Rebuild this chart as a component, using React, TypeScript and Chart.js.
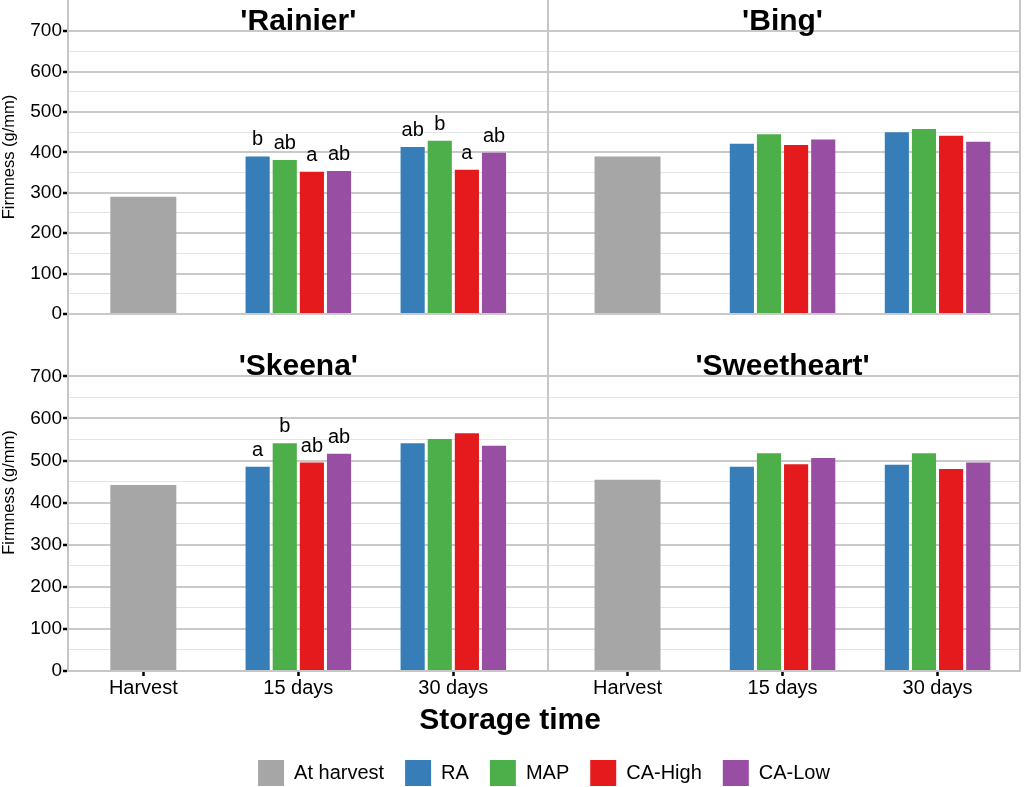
import React, { useEffect, useRef } from 'react';
import { Chart, registerables } from 'chart.js';

Chart.register(...registerables);

const FONT = "'Liberation Sans', Arial, Helvetica, sans-serif";
const FRAME = '#c6c6c6';
const GRID_MAJOR = '#c9c9c9';
const GRID_MINOR = '#e4e4e4';

// categories
const storageTimes = ['Harvest', '15 days', '30 days'];
const treatments = ['At harvest', 'RA', 'MAP', 'CA-High', 'CA-Low'];
const treatmentColors = ['#a6a6a6', '#377eb8', '#4daf4a', '#e41a1c', '#984ea3'];
const cultivars = ["'Rainier'", "'Bing'", "'Skeena'", "'Sweetheart'"];

// firmness (g/mm), one value per cultivar (Rainier, Bing, Skeena, Sweetheart)
const atHarvest = [290, 390, 442, 454];
const ra15 = [390, 421, 485, 485];
const ra30 = [413, 450, 541, 490];
const map15 = [381, 445, 541, 517];
const map30 = [429, 458, 551, 517];
const caHigh15 = [352, 418, 495, 491];
const caHigh30 = [357, 441, 565, 480];
const caLow15 = [354, 432, 516, 506];
const caLow30 = [399, 426, 535, 495];

// significance letters (RA, MAP, CA-High, CA-Low) per cultivar
const letters15 = [['b', 'ab', 'a', 'ab'], [], ['a', 'b', 'ab', 'ab'], []];
const letters30 = [['ab', 'b', 'a', 'ab'], [], [], []];

// y ticks (labels only on hundreds)
const firmnessTicks = [0, 50, 100, 150, 200, 250, 300, 350, 400, 450, 500, 550, 600, 650, 700];

// facet layout on the shared x axis (in category units)
const COLUMN_SHIFT = 3.124; // right-hand panels start here
const X_MIN = -0.486;
const X_MAX = 5.656;
const COLUMN_SPLIT = 2.611; // border between the two panel columns
const TITLE_LEVEL = 704; // panel titles sit just above the 700 line

const series15 = [ra15, map15, caHigh15, caLow15];
const series30 = [ra30, map30, caHigh30, caLow30];
const rowAxes = ['yT', 'yB'];

function firmness(c: number, t: number, i: number): number | null {
  if (t === 0) return i === 0 ? atHarvest[c] : null;
  if (i === 1) return series15[t - 1][c];
  if (i === 2) return series30[t - 1][c];
  return null;
}

function letter(c: number, t: number, i: number): string | null {
  if (t === 0) return null;
  if (i === 1) return letters15[c][t - 1] || null;
  if (i === 2) return letters30[c][t - 1] || null;
  return null;
}

// one dataset per treatment and panel row; the two columns share the x axis
function buildDatasets() {
  const out: any[] = [];
  rowAxes.forEach((yAxisID, r) => {
    treatments.forEach((name, t) => {
      const data: any[] = [];
      const letters: (string | null)[] = [];
      [0, 1].forEach((cc) => {
        const c = r * 2 + cc;
        storageTimes.forEach((_, i) => {
          data.push({ x: i + cc * COLUMN_SHIFT, y: firmness(c, t, i) });
          letters.push(letter(c, t, i));
        });
      });
      out.push({
        label: name,
        data,
        letters,
        backgroundColor: treatmentColors[t],
        borderWidth: 0,
        stack: name,
        skipNull: true,
        yAxisID,
        categoryPercentage: 0.7,
        barPercentage: t === 0 ? 0.608 : 0.89,
      });
    });
  });
  return out;
}

const panelDecor = {
  id: 'panelDecor',
  afterDatasetsDraw(chart: any) {
    const { ctx, chartArea, scales } = chart;
    const xs = scales.x;
    ctx.save();

    // vertical panel borders
    ctx.strokeStyle = FRAME;
    ctx.lineWidth = 2;
    ctx.beginPath();
    [xs.getPixelForValue(COLUMN_SPLIT), chartArea.right].forEach((x: number) => {
      ctx.moveTo(x, chartArea.top);
      ctx.lineTo(x, chartArea.bottom);
    });
    ctx.stroke();

    // cultivar titles, centred over the middle storage time
    ctx.fillStyle = '#000';
    ctx.textAlign = 'center';
    ctx.textBaseline = 'alphabetic';
    ctx.font = `bold 30px ${FONT}`;
    cultivars.forEach((name, c) => {
      const ys = scales[rowAxes[Math.floor(c / 2)]];
      const xv = 1 + (c % 2) * COLUMN_SHIFT;
      ctx.fillText(name, xs.getPixelForValue(xv), ys.getPixelForValue(TITLE_LEVEL));
    });

    // letters above bars
    ctx.font = `20px ${FONT}`;
    chart.data.datasets.forEach((ds: any, i: number) => {
      if (!ds.letters) return;
      const meta = chart.getDatasetMeta(i);
      meta.data.forEach((bar: any, j: number) => {
        const txt = ds.letters[j];
        if (txt && Number.isFinite(bar.y)) ctx.fillText(txt, bar.x, bar.y - 11);
      });
    });
    ctx.restore();
  },
};

function noPadding(scale: any) {
  scale.paddingTop = 0;
  scale.paddingBottom = 0;
  scale.paddingLeft = 0;
  scale.paddingRight = 0;
}

function yAxis(max: number, weight: number) {
  return {
    type: 'linear',
    position: 'left',
    stack: 'rows',
    stackWeight: weight,
    min: 0,
    max,
    bounds: 'data',
    afterBuildTicks: (scale: any) => {
      scale.ticks = firmnessTicks.map((value) => ({ value }));
    },
    afterFit: (scale: any) => {
      scale.width = 68;
      noPadding(scale);
    },
    ticks: {
      autoSkip: false,
      padding: 1,
      color: '#000',
      font: { family: FONT, size: 19 },
      callback: (v: number) => (v % 100 === 0 ? String(v) : ''),
    },
    grid: {
      color: (ctx: any) => (ctx.tick && ctx.tick.value % 100 === 0 ? GRID_MAJOR : GRID_MINOR),
      lineWidth: (ctx: any) => (ctx.tick && ctx.tick.value % 100 === 0 ? 2 : 1),
      tickColor: (ctx: any) => (ctx.tick && ctx.tick.value % 100 === 0 ? '#000' : 'rgba(0,0,0,0)'),
      tickLength: 5,
      tickWidth: 2.5,
    },
    border: { display: true, color: FRAME, width: 2 },
    title: {
      display: true,
      text: 'Firmness (g/mm)',
      color: '#000',
      padding: 0,
      font: { family: FONT, size: 16.5 },
    },
  };
}

const xAxis = {
  type: 'linear',
  position: 'bottom',
  min: X_MIN,
  max: X_MAX,
  bounds: 'data',
  offset: false,
  afterBuildTicks: (scale: any) => {
    const ticks: any[] = [];
    [0, 1].forEach((cc) => storageTimes.forEach((_, i) => ticks.push({ value: i + cc * COLUMN_SHIFT })));
    scale.ticks = ticks;
  },
  afterFit: (scale: any) => {
    scale.height = 32;
    noPadding(scale);
  },
  ticks: {
    autoSkip: false,
    maxRotation: 0,
    padding: 0,
    color: '#000',
    font: { family: FONT, size: 20 },
    callback: (_v: number, index: number) => storageTimes[index % storageTimes.length],
  },
  grid: {
    offset: false,
    drawOnChartArea: false,
    drawTicks: true,
    tickLength: 5,
    tickWidth: 2.5,
    tickColor: '#000',
  },
  border: { display: true, color: FRAME, width: 2 },
};

export default function App() {
  const canvasRef = useRef<HTMLCanvasElement>(null);

  useEffect(() => {
    const canvas = canvasRef.current;
    if (!canvas) return;

    const chart = new Chart(canvas, {
      type: 'bar',
      data: { datasets: buildDatasets() },
      options: {
        animation: false,
        responsive: true,
        maintainAspectRatio: false,
        events: [],
        layout: { padding: { left: 0, right: 4, top: 0, bottom: 1 } },
        datasets: { bar: { skipNull: true } },
        scales: {
          x: xAxis,
          yB: yAxis(848, 357),
          yT: yAxis(777, 314),
        } as any,
        plugins: {
          tooltip: { enabled: false },
          title: {
            display: true,
            text: 'Storage time',
            position: 'bottom',
            fullSize: true,
            weight: 500,
            color: '#000',
            padding: 0,
            font: { family: FONT, size: 30, weight: 'bold', lineHeight: 1.2 },
          } as any,
          legend: {
            display: true,
            position: 'bottom',
            fullSize: false,
            maxHeight: 47,
            labels: {
              boxWidth: 26,
              boxHeight: 26,
              padding: 21,
              color: '#000',
              font: { family: FONT, size: 20 },
              filter: (item: any) => item.datasetIndex < treatments.length,
            },
          } as any,
        },
      },
      plugins: [panelDecor],
    });

    return () => chart.destroy();
  }, []);

  return (
    <div style={{ position: 'relative', width: 1024, height: 787, background: '#fff' }}>
      <style>{'html, body { margin: 0; padding: 0; background: #fff; }'}</style>
      <canvas ref={canvasRef} />
    </div>
  );
}
